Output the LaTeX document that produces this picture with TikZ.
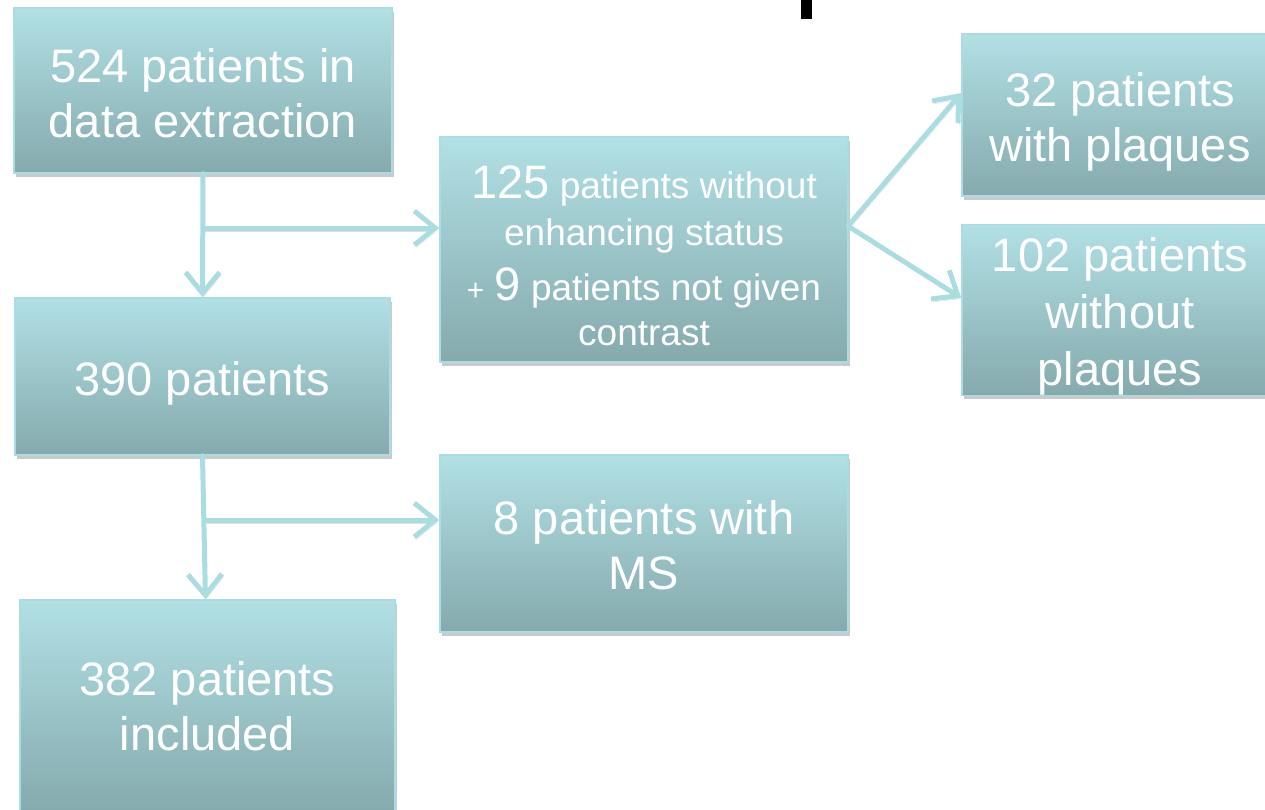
\documentclass[tikz,border=0pt]{standalone}
\usepackage{fontspec}
\setmainfont{Liberation Sans}
\usetikzlibrary{shadows,arrows.meta,calc}
\definecolor{boxtop}{RGB}{177,224,229}
\definecolor{boxbot}{RGB}{133,170,173}
\definecolor{boxedge}{RGB}{170,221,227}
\definecolor{arrcol}{RGB}{170,221,226}
\newcommand{\topstrut}[1]{\rule{0pt}{#1}}
\tikzset{
  flowbox/.style={rectangle, draw=boxedge, line width=1.5pt,
    top color=boxtop, bottom color=boxbot, text=white, align=center,
    inner sep=0pt, font=\fontsize{47}{55}\selectfont,
    drop shadow={shadow xshift=2pt, shadow yshift=-4pt, opacity=0.35, fill=black!60}},
  arr/.style={draw=arrcol, line width=5pt, line cap=round, line join=round,
    -{Straight Barb[length=21pt,width=34pt]},
    preaction={draw=black!50, opacity=0.25, transform canvas={xshift=1.5pt,yshift=-3pt}}}
}
\begin{document}
\begin{tikzpicture}[x=1pt,y=-1pt]
\useasboundingbox (0,0) rectangle (1265,809);
\clip (0,0) rectangle (1265,809);
\fill[black] (801,0) rectangle (812,19);

\node[flowbox, minimum width=378pt, minimum height=165pt] (A) at (203,90.5)
  {\topstrut{39pt}524 patients in\\data extraction};
\node[flowbox, minimum width=375pt, minimum height=157pt] (B) at (202.5,376.5)
  {\topstrut{47pt}390 patients};
\node[flowbox, minimum width=375pt, minimum height=212pt] (C) at (207.5,706)
  {382 patients\\included};
\node[flowbox, minimum width=408pt, minimum height=225pt, font=\fontsize{37}{45}\selectfont] (D) at (644,249.5)
  {\topstrut{45pt}{\fontsize{47}{45}\selectfont 125} patients without\\[2pt]enhancing status\\[10pt]
   {\fontsize{30}{45}\selectfont +} {\fontsize{47}{45}\selectfont 9} patients not given\\contrast};
\node[flowbox, minimum width=408pt, minimum height=177pt] (E) at (644,543.5)
  {\topstrut{37pt}8 patients with\\MS};
\node[flowbox, minimum width=316pt, minimum height=162pt] (F) at (1120,115)
  {\topstrut{47pt}32 patients\\with plaques};
\node[flowbox, minimum width=316pt, minimum height=164pt, font=\fontsize{47}{57}\selectfont] (G) at (1120,310)
  {\topstrut{47pt}102 patients\\without\\plaques};

\coordinate (j1) at (203,228);
\coordinate (j2) at (205,520);
\coordinate (d1) at (848,226);

\draw[arr] (A.south) -- (B.north);
\draw[arr] (j1) -- (j1 -| D.west);
\draw[arr] (B.south) -- ($(C.north)+(-2,0)$);
\draw[arr] (j2) -- (j2 -| E.west);
\draw[arr] (d1) -- ($(F.west)+(0,-22)$);
\draw[arr] (d1) -- ($(G.west)+(0,-12)$);
\end{tikzpicture}
\end{document}
